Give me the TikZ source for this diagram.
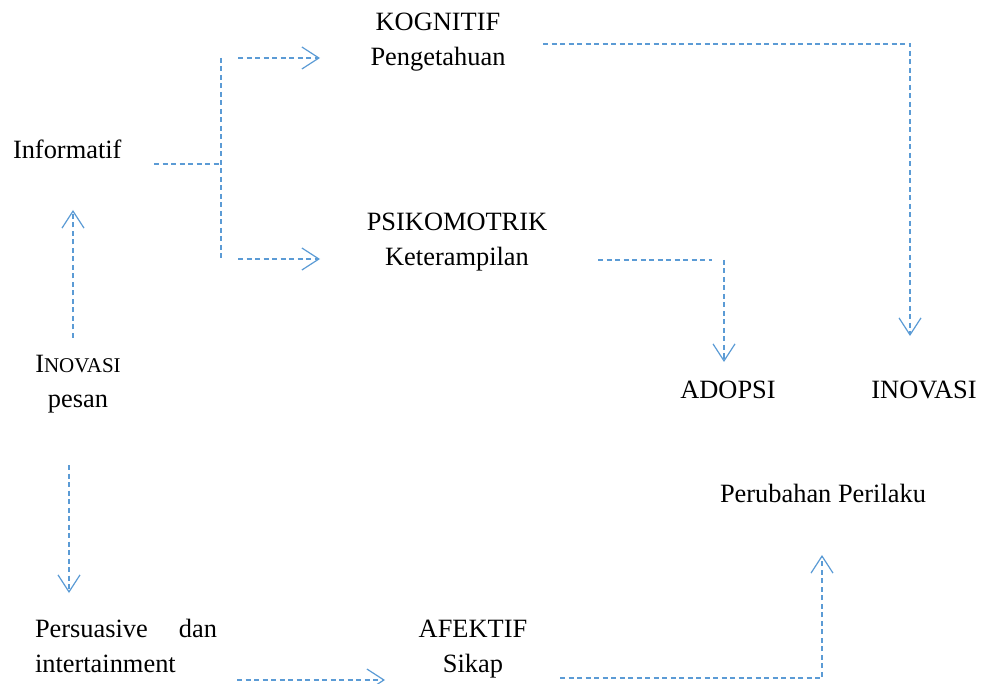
\documentclass[tikz,border=0pt]{standalone}
\usepackage{fontspec}
\setmainfont{Liberation Serif}
\usetikzlibrary{arrows.meta}
\definecolor{lnblue}{HTML}{5B9BD5}
\tikzset{
  lbl/.style={inner sep=0pt, outer sep=0pt, font=\rmfamily\fontsize{26.4}{35}\selectfont, align=center},
  conn/.style={draw=lnblue, line width=1.2pt, dash pattern=on 5pt off 3.5pt},
  arr/.style={conn, -{Straight Barb[length=17pt,width=22pt,line width=1.2pt]}}
}
\begin{document}
\begin{tikzpicture}[x=1pt,y=-1pt]
\useasboundingbox (0,0) rectangle (982,684);
% text nodes (anchor base = baseline of last line)
\node[lbl, anchor=base] (kog) at (438,66) {KOGNITIF\\Pengetahuan};
\node[lbl, anchor=base west] (info) at (13,159) {Informatif};
\node[lbl, anchor=base] (psi) at (457,266) {PSIKOMOTRIK\\Keterampilan};
\node[lbl, anchor=base] (inov) at (78,407) {I{\fontsize{21}{35}\selectfont NOVASI}\\pesan};
\node[lbl, anchor=base] (adopsi) at (728,398) {ADOPSI};
\node[lbl, anchor=base] (inovasi) at (924,398) {INOVASI};
\node[lbl, anchor=base] (perubahan) at (823,502) {Perubahan Perilaku};
\node[lbl, anchor=base west, align=left] (pers) at (35,672) {\makebox[182pt][s]{Persuasive dan}\\intertainment};
\node[lbl, anchor=base] (afek) at (473,672) {AFEKTIF\\Sikap};
% connector end points
\coordinate (i1) at (154,164);
\coordinate (br) at (221,164);
\coordinate (bt) at (221,58);
\coordinate (bb) at (221,260);
\coordinate (k0) at (238,58);
\coordinate (k1) at (320,58);
\coordinate (p0) at (238,259);
\coordinate (p1) at (320,259);
\coordinate (u0) at (73,338);
\coordinate (u1) at (73,210);
\coordinate (d0) at (69,465);
\coordinate (d1) at (69,593);
\coordinate (a0) at (237,680);
\coordinate (a1) at (385,680);
\coordinate (s0) at (560,678);
\coordinate (s1) at (822,555);
\coordinate (t0) at (598,260);
\coordinate (t1) at (712,260);
\coordinate (t2) at (724,260);
\coordinate (t3) at (724,362);
\coordinate (g0) at (543,44);
\coordinate (g1) at (910,336);
% connectors
\draw[conn] (i1) -- (br);
\draw[conn] (bt) -- (bb);
\draw[arr] (k0) -- (k1);
\draw[arr] (p0) -- (p1);
\draw[arr] (u0) -- (u1);
\draw[arr] (d0) -- (d1);
\draw[arr] (a0) -- (a1);
\draw[arr] (s0) -| (s1);
\draw[conn] (t0) -- (t1);
\draw[arr] (t2) -- (t3);
\draw[arr] (g0) -| (g1);
\end{tikzpicture}
\end{document}
